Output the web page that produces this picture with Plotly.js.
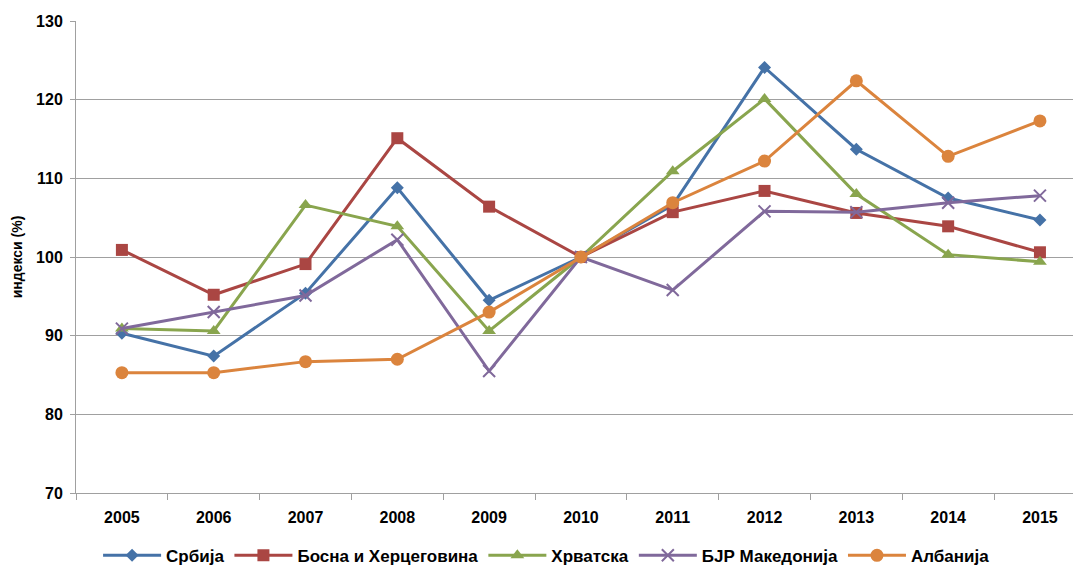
<!DOCTYPE html>
<html><head><meta charset="utf-8">
<script src="https://cdn.plot.ly/plotly-3.0.1.min.js"></script>
<style>body{margin:0;background:#fff}#chart{width:1073px;height:566px}</style>
</head><body><div id="chart"></div>
<script>
const years = ['2005','2006','2007','2008','2009','2010','2011','2012','2013','2014','2015'];
const serbia = [90.3, 87.4, 95.4, 108.8, 94.5, 100, 106.6, 124.1, 113.7, 107.5, 104.7];
const bih = [100.9, 95.2, 99.1, 115.1, 106.4, 100, 105.7, 108.4, 105.6, 103.9, 100.6];
const croatia = [90.9, 90.6, 106.6, 103.9, 90.6, 100, 110.9, 120.1, 108.0, 100.3, 99.4];
const macedonia = [90.9, 93.0, 95.1, 102.2, 85.5, 100, 95.8, 105.8, 105.7, 106.9, 107.8];
const albania = [85.3, 85.3, 86.7, 87.0, 93.0, 100, 106.9, 112.2, 122.4, 112.8, 117.3];
const names = ['Србија','Босна и Херцеговина','Хрватска','БЈР Македонија','Албанија'];
const colors = ['#4572A7','#AA4643','#89A54E','#80699B','#DB843D'];
const symbols = ['diamond','square','triangle-up','x-thin','circle'];
const sizes = [10,12,12,12,13];
const series = [serbia,bih,croatia,macedonia,albania];
const font = "'Liberation Sans Narrow','Arial Narrow','Liberation Sans',Arial,sans-serif";
const traces = series.map((s,i)=>({
  x: years, y: s, name: names[i], type:'scatter', mode:'lines+markers',
  line:{color:colors[i], width:3},
  marker:{symbol:symbols[i], size:sizes[i], color:colors[i], line:{color:colors[i], width: i===3?2:0}}
}));
const layout = {
  width:1073, height:566,
  margin:{l:76, r:0, t:21, b:73, autoexpand:false},
  paper_bgcolor:'#fff', plot_bgcolor:'#fff',
  font:{family:font, color:'#000'},
  showlegend:true,
  legend:{orientation:'h', x:0.472, xanchor:'center', y:-0.133, yanchor:'middle',
    font:{family:font, size:17, color:'#000', weight:'bold'}, traceorder:'normal', itemwidth:58},
  xaxis:{type:'category', range:[-0.5,10.36], tickson:'boundaries', ticks:'outside', ticklen:6,
    tickcolor:'#a0a0a0', showgrid:false, showline:true, linecolor:'#a0a0a0', linewidth:1,
    ticklabelstandoff:10,
    tickfont:{family:font, size:16, color:'#000', weight:'bold'}, zeroline:false},
  yaxis:{range:[70,130], dtick:10, ticks:'outside', ticklen:5, tickcolor:'#a0a0a0',
    showgrid:true, gridcolor:'#a0a0a0', gridwidth:1, showline:true, linecolor:'#a0a0a0',
    ticklabelstandoff:4,
    tickfont:{family:font, size:16, color:'#000', weight:'bold'}, zeroline:false,
    title:{text:'индекси (%)', font:{family:font, size:14, color:'#000', weight:'bold'}, standoff:10}}
};
Plotly.newPlot('chart', traces, layout, {displayModeBar:false});
</script></body></html>
